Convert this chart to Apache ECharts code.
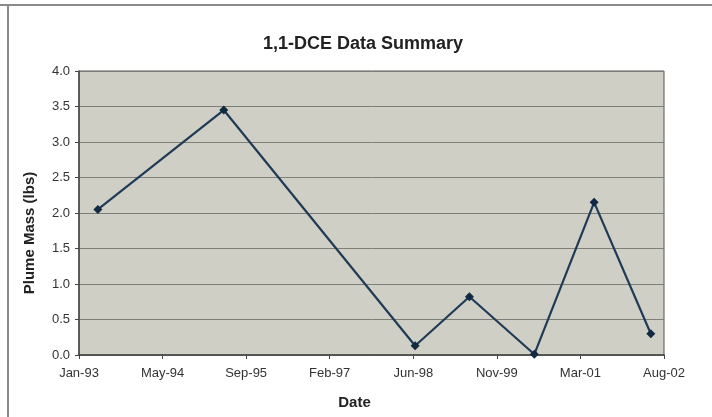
<!DOCTYPE html>
<html>
<head>
<meta charset="utf-8">
<script src="https://cdn.jsdelivr.net/npm/echarts@6/dist/echarts.min.js"></script>
<style>
  html, body { margin: 0; padding: 0; background: #fff; }
  #main { width: 712px; height: 417px; }
</style>
</head>
<body>
<div id="main"></div>
<script>
// sample dates and plume mass (lbs)
var dates = ['1993-04-24', '1995-05-17', '1998-07-05', '1999-05-26', '2000-06-17', '2001-06-10', '2002-05-15'];
var mass = [2.05, 3.45, 0.13, 0.82, 0.01, 2.15, 0.30];
// excel style date axis: starts 1-Jan-93, major unit 500 days
var axisStart = '1993-01-01';
var dayStep = 500;
var dayMax = 3500;
var months = ['Jan', 'Feb', 'Mar', 'Apr', 'May', 'Jun', 'Jul', 'Aug', 'Sep', 'Oct', 'Nov', 'Dec'];

var DAY = 86400000;
function toMs(s) {
  var p = s.split('-');
  return Date.UTC(+p[0], +p[1] - 1, +p[2]);
}
var t0 = toMs(axisStart);
function dayLabel(v) {
  var d = new Date(t0 + v * DAY);
  var yy = String(d.getUTCFullYear() % 100);
  if (yy.length < 2) yy = '0' + yy;
  return months[d.getUTCMonth()] + '-' + yy;
}

var pts = [];
for (var i = 0; i < dates.length; i++) {
  pts.push([(toMs(dates[i]) - t0) / DAY, mass[i]]);
}

var font = 'Liberation Sans, Arial';
var chart = echarts.init(document.getElementById('main'), null, { renderer: 'canvas' });
var option = {
  backgroundColor: '#ffffff',
  animation: false,
  title: {
    text: '1,1-DCE Data Summary',
    left: 258,
    top: 30,
    textStyle: { fontFamily: font, fontWeight: 'bold', fontSize: 18, color: '#222' }
  },
  graphic: [
    { type: 'line', shape: { x1: 0, y1: 5, x2: 712, y2: 5 }, style: { stroke: '#8a8a8a', lineWidth: 2 } },
    { type: 'line', shape: { x1: 8, y1: 5, x2: 8, y2: 417 }, style: { stroke: '#8a8a8a', lineWidth: 2 } }
  ],
  grid: {
    left: 79, right: 48, top: 71, bottom: 62,
    show: true,
    backgroundColor: '#cfcfc5',
    borderColor: '#555',
    borderWidth: 1
  },
  xAxis: {
    type: 'value',
    min: 0,
    max: dayMax,
    interval: dayStep,
    name: 'Date',
    nameLocation: 'middle',
    nameGap: 40,
    nameTextStyle: { fontFamily: font, fontWeight: 'bold', fontSize: 15, color: '#222', padding: [0, 34, 0, 0] },
    axisLine: { show: true, lineStyle: { color: '#444', width: 1.5 } },
    axisTick: { show: true, length: 4, lineStyle: { color: '#444' } },
    axisLabel: {
      formatter: dayLabel,
      fontFamily: font,
      fontSize: 13,
      color: '#333',
      margin: 12
    },
    splitLine: { show: false }
  },
  yAxis: {
    type: 'value',
    min: 0,
    max: 4,
    interval: 0.5,
    name: 'Plume Mass (lbs)',
    nameLocation: 'middle',
    nameGap: 42,
    nameTextStyle: { fontFamily: font, fontWeight: 'bold', fontSize: 15, color: '#222', padding: [0, 40, 0, 0] },
    axisLine: { show: true, lineStyle: { color: '#444', width: 1.5 } },
    axisTick: { show: true, length: 4, lineStyle: { color: '#444' } },
    axisLabel: {
      formatter: function (v) { return v.toFixed(1); },
      fontFamily: font,
      fontSize: 13,
      color: '#333',
      margin: 9
    },
    splitLine: { show: true, lineStyle: { color: '#7e7e78', width: 1 } }
  },
  series: [{
    type: 'line',
    data: pts,
    symbol: 'diamond',
    symbolSize: 9,
    lineStyle: { color: '#1f3b57', width: 2.2 },
    itemStyle: { color: '#102a44' }
  }]
};
chart.setOption(option);
</script>
</body>
</html>
